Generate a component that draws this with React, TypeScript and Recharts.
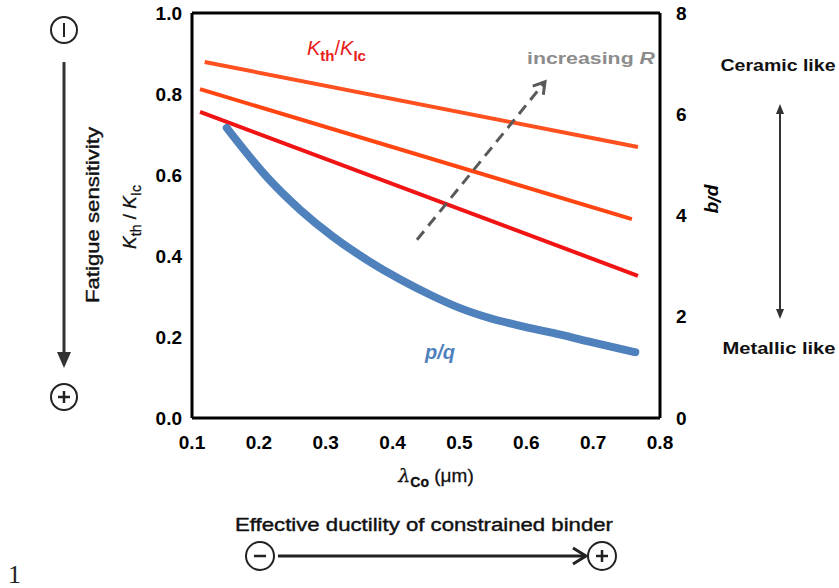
import { LineChart, Line, XAxis, YAxis, ReferenceLine } from 'recharts';

// lambda_Co (µm) ticks and axis ticks
const xTicks = [0.1, 0.2, 0.3, 0.4, 0.5, 0.6, 0.7, 0.8];
const leftTicks = [0, 0.2, 0.4, 0.6, 0.8, 1.0];
const rightTicks = [0, 2, 4, 6, 8];

// Kth/KIc lines for three R ratios (low -> high)
const lowRLambda = [0.112, 0.767];
const lowRRatio = [0.756, 0.351];
const midRLambda = [0.112, 0.758];
const midRRatio = [0.812, 0.491];
const highRLambda = [0.119, 0.767];
const highRRatio = [0.879, 0.669];

// p/q curve (right axis)
const pqLambda = [0.152, 0.212, 0.262, 0.311, 0.362, 0.411, 0.46, 0.501, 0.541, 0.591, 0.64, 0.691, 0.763];
const pqValues = [5.73, 4.76, 4.11, 3.58, 3.12, 2.74, 2.41, 2.17, 1.99, 1.82, 1.68, 1.52, 1.3];

// "increasing R" arrow, in data units (left axis)
const arrowFrom = { x: 0.4365, y: 0.44 };
const arrowTo = { x: 0.628, y: 0.83 };

const toPoints = (xs: number[], ys: number[]) => xs.map((x, i) => ({ x, y: ys[i] }));

const ARIAL = '"Liberation Sans", Arial, sans-serif';
const tickStyle = { fontFamily: ARIAL, fontWeight: 'bold' as const, fontSize: 19, fill: '#000' };
const axisLine = { stroke: '#000', strokeWidth: 3 };

function DashedArrow(props: any) {
  const { x1, y1, x2, y2 } = props;
  const ang = Math.atan2(y2 - y1, x2 - x1);
  const len = 13;
  const spread = 0.55;
  const ax = x2 - len * Math.cos(ang - spread);
  const ay = y2 - len * Math.sin(ang - spread);
  const bx = x2 - len * Math.cos(ang + spread);
  const by = y2 - len * Math.sin(ang + spread);
  return (
    <g>
      <line x1={x1} y1={y1} x2={x2 - 2 * Math.cos(ang)} y2={y2 - 2 * Math.sin(ang)} stroke="#595959" strokeWidth={3} strokeDasharray="11 7" />
      <polyline points={`${ax},${ay} ${x2},${y2} ${bx},${by}`} fill="none" stroke="#595959" strokeWidth={3} />
    </g>
  );
}

function Annotations() {
  return (
    <svg width={839} height={588} style={{ position: 'absolute', left: 0, top: 0, pointerEvents: 'none' }}>
      {/* left: fatigue sensitivity */}
      <circle cx={64} cy={30} r={13} fill="none" stroke="#222" strokeWidth={2} />
      <line x1={64} y1={23} x2={64} y2={37} stroke="#222" strokeWidth={2} />
      <line x1={64} y1={62} x2={64} y2={356} stroke="#333" strokeWidth={3} />
      <polygon points="57,352 71,352 64,368" fill="#333" />
      <circle cx={64} cy={397} r={13} fill="none" stroke="#222" strokeWidth={2} />
      <line x1={58} y1={397} x2={70} y2={397} stroke="#222" strokeWidth={2.5} />
      <line x1={64} y1={391} x2={64} y2={403} stroke="#222" strokeWidth={2.5} />
      <text x={99} y={215} transform="rotate(-90 99 215)" textAnchor="middle" fontFamily={ARIAL} fontSize={18} fill="#111" stroke="#111" strokeWidth={0.4} textLength={176} lengthAdjust="spacingAndGlyphs">
        Fatigue sensitivity
      </text>
      <text x={136} y={217} transform="rotate(-90 136 217)" textAnchor="middle" fontFamily={ARIAL} fontSize={19} fill="#111" stroke="#111" strokeWidth={0.3}>
        <tspan fontStyle="italic">K</tspan>
        <tspan fontSize={14} dy={5}>th</tspan>
        <tspan dy={-5}> / </tspan>
        <tspan fontStyle="italic">K</tspan>
        <tspan fontSize={14} dy={5}>Ic</tspan>
      </text>

      {/* right axis title and ceramic/metallic scale */}
      <text x={708} y={199} transform="rotate(90 708 199)" textAnchor="middle" fontFamily={ARIAL} fontSize={19} fontWeight="bold" fontStyle="italic" fill="#000">
        p/q
      </text>
      <text x={778} y={71} textAnchor="middle" fontFamily={ARIAL} fontSize={17} fontWeight="bold" fill="#111" textLength={115} lengthAdjust="spacingAndGlyphs">
        Ceramic like
      </text>
      <text x={779} y={354} textAnchor="middle" fontFamily={ARIAL} fontSize={17} fontWeight="bold" fill="#111" textLength={113} lengthAdjust="spacingAndGlyphs">
        Metallic like
      </text>
      <line x1={780} y1={112} x2={780} y2={311} stroke="#333" strokeWidth={2} />
      <polygon points="776,114 784,114 780,104" fill="#333" />
      <polygon points="776,309 784,309 780,319" fill="#333" />

      {/* labels inside plot */}
      <text x={307} y={55} fontFamily={ARIAL} fontSize={20} fill="#E8201A">
        <tspan fontStyle="italic">K</tspan>
        <tspan fontSize={15} fontWeight="bold" dy={6}>th</tspan>
        <tspan dy={-6}>/</tspan>
        <tspan fontStyle="italic">K</tspan>
        <tspan fontSize={15} fontWeight="bold" dy={6}>Ic</tspan>
      </text>
      <text x={591} y={64} textAnchor="middle" fontFamily={ARIAL} fontSize={17} fontWeight="bold" fill="#8C8C8C" textLength={128} lengthAdjust="spacingAndGlyphs">
        increasing <tspan fontStyle="italic">R</tspan>
      </text>
      <text x={440} y={359} textAnchor="middle" fontFamily={ARIAL} fontSize={20} fontWeight="bold" fontStyle="italic" fill="#4F81BD">
        p/q
      </text>

      {/* x axis title */}
      <text x={436} y={482} textAnchor="middle" fontFamily={ARIAL} fontSize={19} fill="#111" stroke="#111" strokeWidth={0.3}>
        <tspan fontFamily='"DejaVu Serif", serif' fontStyle="italic">λ</tspan>
        <tspan fontSize={14} fontWeight="bold" dy={5}>Co</tspan>
        <tspan dy={-5}> (μm)</tspan>
      </text>

      {/* bottom: effective ductility */}
      <text x={424} y={531} textAnchor="middle" fontFamily={ARIAL} fontSize={18} fill="#111" stroke="#111" strokeWidth={0.4} textLength={378} lengthAdjust="spacingAndGlyphs">
        Effective ductility of constrained binder
      </text>
      <circle cx={260} cy={556} r={14} fill="none" stroke="#222" strokeWidth={2} />
      <line x1={254} y1={556} x2={266} y2={556} stroke="#222" strokeWidth={2.5} />
      <line x1={278} y1={556} x2={584} y2={556} stroke="#222" strokeWidth={3} />
      <polyline points="573,548 586,556 573,564" fill="none" stroke="#222" strokeWidth={3} />
      <circle cx={602} cy={556} r={14} fill="none" stroke="#222" strokeWidth={2} />
      <line x1={596} y1={556} x2={608} y2={556} stroke="#222" strokeWidth={2.5} />
      <line x1={602} y1={550} x2={602} y2={562} stroke="#222" strokeWidth={2.5} />

      <text x={8} y={583} fontFamily='"Liberation Serif", "DejaVu Serif", serif' fontSize={26} fill="#222">
        1
      </text>
    </svg>
  );
}

export default function App() {
  return (
    <div style={{ position: 'absolute', left: 0, top: 0, width: 839, height: 588, background: '#fff' }}>
      <LineChart width={839} height={588} margin={{ top: 13, right: 139, bottom: 140, left: 142 }}>
        <XAxis
          type="number"
          dataKey="x"
          domain={[0.1, 0.8]}
          ticks={xTicks}
          tickFormatter={(v: number) => v.toFixed(1)}
          tick={tickStyle}
          tickLine={false}
          tickSize={0}
          tickMargin={18}
          axisLine={axisLine}
          height={30}
          allowDataOverflow
        />
        <YAxis
          yAxisId="left"
          type="number"
          domain={[0, 1]}
          ticks={leftTicks}
          tickFormatter={(v: number) => v.toFixed(1)}
          tick={tickStyle}
          tickLine={false}
          tickSize={0}
          tickMargin={10}
          axisLine={axisLine}
          width={50}
        />
        <YAxis
          yAxisId="right"
          orientation="right"
          type="number"
          domain={[0, 8]}
          ticks={rightTicks}
          tick={tickStyle}
          tickLine={false}
          tickSize={0}
          tickMargin={16}
          axisLine={axisLine}
          width={40}
        />
        <ReferenceLine yAxisId="left" y={1} stroke="#000" strokeWidth={3} />
        <Line
          yAxisId="left"
          data={toPoints(highRLambda, highRRatio)}
          dataKey="y"
          stroke="#FF5020"
          strokeWidth={4}
          dot={false}
          isAnimationActive={false}
        />
        <Line
          yAxisId="left"
          data={toPoints(midRLambda, midRRatio)}
          dataKey="y"
          stroke="#FF4612"
          strokeWidth={4}
          dot={false}
          isAnimationActive={false}
        />
        <Line
          yAxisId="left"
          data={toPoints(lowRLambda, lowRRatio)}
          dataKey="y"
          stroke="#F01414"
          strokeWidth={4}
          dot={false}
          isAnimationActive={false}
        />
        <Line
          yAxisId="right"
          data={toPoints(pqLambda, pqValues)}
          dataKey="y"
          type="monotone"
          stroke="#4F81BD"
          strokeWidth={8}
          strokeLinecap="round"
          dot={false}
          isAnimationActive={false}
        />
        <ReferenceLine
          yAxisId="left"
          segment={[arrowFrom, arrowTo]}
          shape={(p: any) => <DashedArrow {...p} />}
        />
      </LineChart>
      <Annotations />
    </div>
  );
}
